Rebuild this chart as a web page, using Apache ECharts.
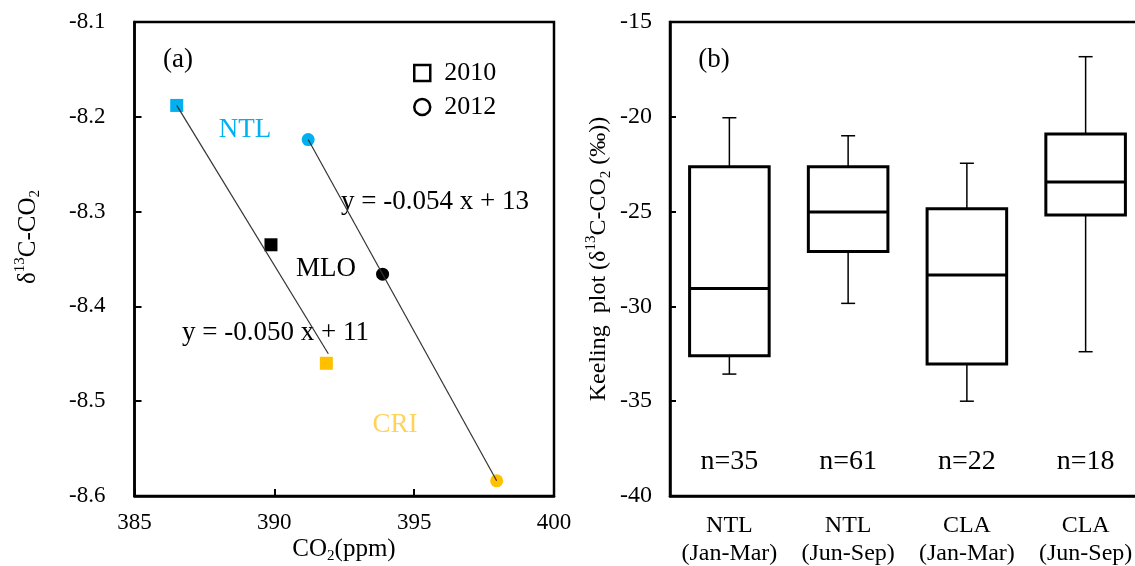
<!DOCTYPE html>
<html>
<head>
<meta charset="utf-8">
<script src="https://cdn.jsdelivr.net/npm/echarts@6/dist/echarts.min.js"></script>
<style>html,body{margin:0;background:#fff}#c{width:1135px;height:566px}</style>
</head>
<body>
<div id="c"></div>
<script>
/* (a) d13C vs CO2 at three sites, 2010 vs 2012; (b) Keeling-plot intercepts as box plots */
var SITES = ['NTL', 'MLO', 'CRI'];
var SITE_COLORS = ['#00b0f0', '#000000', '#ffc000'];
var CO2_2010 = [386.51, 389.88, 391.86];
var D13C_2010 = [-8.188, -8.335, -8.460];
var CO2_2012 = [391.21, 393.87, 397.95];
var D13C_2012 = [-8.224, -8.366, -8.584];
// ends of the two fitted lines
var FIT_2010_X = [386.51, 391.93];
var FIT_2010_Y = [-8.188, -8.450];
var FIT_2012_X = [391.21, 397.95];
var FIT_2012_Y = [-8.224, -8.584];

var GROUPS = ['NTL\n(Jan-Mar)', 'NTL\n(Jun-Sep)', 'CLA\n(Jan-Mar)', 'CLA\n(Jun-Sep)'];
var WHISK_HI = [-20.05, -21.0, -22.45, -16.83];
var Q3 = [-22.63, -22.63, -24.85, -20.91];
var MEDIAN = [-29.05, -25.02, -28.34, -23.44];
var Q1 = [-32.6, -27.1, -33.04, -25.18];
var WHISK_LO = [-33.57, -29.84, -35.0, -32.39];
var N_OBS = [35, 61, 22, 18];
var N_LABEL_Y = -38.2;

var SERIF = '"Liberation Serif", "Times New Roman", serif';

function pairs(xs, ys){ return xs.map(function(x, i){ return [x, ys[i]]; }); }
function pts(xs, ys){
  return xs.map(function(x, i){ return { value:[x, ys[i]], name:SITES[i], itemStyle:{ color:SITE_COLORS[i], opacity:1 } }; });
}

var boxRows = GROUPS.map(function(g, i){ return [i, WHISK_LO[i], Q1[i], MEDIAN[i], Q3[i], WHISK_HI[i], N_OBS[i]]; });

function renderBox(params, api){
  var i = api.value(0);
  var band = api.size([1, 0])[0];
  var bw = band * 0.67, cap = 7;
  var lo = api.coord([i, api.value(1)]), q1 = api.coord([i, api.value(2)]);
  var md = api.coord([i, api.value(3)]), q3 = api.coord([i, api.value(4)]);
  var hi = api.coord([i, api.value(5)]);
  var nPos = api.coord([i, N_LABEL_Y]);
  var cx = lo[0];
  var thin = { stroke:'#000', lineWidth:1.5 };
  var thick = { stroke:'#000', lineWidth:3 };
  return { type:'group', children:[
    { type:'line', shape:{ x1:cx, y1:hi[1], x2:cx, y2:q3[1] }, style:thin },
    { type:'line', shape:{ x1:cx - cap, y1:hi[1], x2:cx + cap, y2:hi[1] }, style:thin },
    { type:'line', shape:{ x1:cx, y1:lo[1], x2:cx, y2:q1[1] }, style:thin },
    { type:'line', shape:{ x1:cx - cap, y1:lo[1], x2:cx + cap, y2:lo[1] }, style:thin },
    { type:'rect', shape:{ x:cx - bw / 2, y:q3[1], width:bw, height:q1[1] - q3[1] },
      style:{ fill:'#fff', stroke:'#000', lineWidth:3 } },
    { type:'line', shape:{ x1:cx - bw / 2, y1:md[1], x2:cx + bw / 2, y2:md[1] }, style:thick },
    { type:'text', style:{ text:'n=' + api.value(6), x:cx, y:nPos[1], align:'center', verticalAlign:'middle',
      fontFamily:SERIF, fontSize:28, fill:'#000' } }
  ]};
}

var axisLineStyle = { show:true, lineStyle:{ color:'#000', width:2.5 } };
var tickStyle = { show:true, inside:true, length:7, lineStyle:{ color:'#000', width:2 } };
var labelBase = { fontFamily:SERIF, color:'#000' };

var rich = {
  t:{ fontFamily:SERIF, fontSize:25, color:'#000', lineHeight:30 },
  sup:{ fontFamily:SERIF, fontSize:15, color:'#000', lineHeight:16, verticalAlign:'top' },
  sub:{ fontFamily:SERIF, fontSize:15, color:'#000', lineHeight:16, verticalAlign:'bottom' }
};
function txt(x, y, text, size, color, extra){
  var o = { type:'text', x:x, y:y, silent:true,
    style:{ text:text, fontFamily:SERIF, fontSize:size, fill:color || '#000', align:'center', verticalAlign:'middle' } };
  if(extra){ for(var k in extra){ o.style[k] = extra[k]; } }
  return o;
}

var option = {
  backgroundColor:'#fff',
  animation:false,
  grid:[
    { left:134.5, right:581, top:22, bottom:70, show:true, borderColor:'#000', borderWidth:2.5, outerBoundsMode:'none' },
    // right edge of panel (b) runs past the page, as in the source figure
    { left:670, width:475, top:22, bottom:70, show:true, borderColor:'#000', borderWidth:2.5, outerBoundsMode:'none' }
  ],
  xAxis:[
    { type:'value', gridIndex:0, min:385, max:400, interval:5,
      axisLine:axisLineStyle, axisTick:tickStyle, splitLine:{ show:false },
      axisLabel:Object.assign({ fontSize:23, margin:15 }, labelBase) },
    { type:'category', gridIndex:1, data:GROUPS, boundaryGap:true,
      axisLine:axisLineStyle, axisTick:{ show:false }, splitLine:{ show:false },
      axisLabel:Object.assign({ fontSize:24, lineHeight:28, margin:16, interval:0 }, labelBase) }
  ],
  yAxis:[
    { type:'value', gridIndex:0, min:-8.6, max:-8.1, interval:0.1,
      axisLine:axisLineStyle, axisTick:tickStyle, splitLine:{ show:false },
      axisLabel:Object.assign({ fontSize:23, margin:29, formatter:function(v){ return v.toFixed(1); } }, labelBase) },
    { type:'value', gridIndex:1, min:-40, max:-15, interval:5,
      axisLine:axisLineStyle, axisTick:Object.assign({}, tickStyle, { length:6 }), splitLine:{ show:false },
      axisLabel:Object.assign({ fontSize:24, margin:18 }, labelBase) }
  ],
  legend:{
    left:408, top:53, orient:'vertical', itemWidth:16, itemHeight:16, itemGap:4, selectedMode:false,
    textStyle:{ fontFamily:SERIF, fontSize:26, lineHeight:30, color:'#000', padding:[0, 0, 0, 9] },
    data:[
      { name:'2010', icon:'rect', itemStyle:{ color:'#fff', borderColor:'#000', borderWidth:2.5, opacity:1 } },
      { name:'2012', icon:'circle', itemStyle:{ color:'#fff', borderColor:'#000', borderWidth:2.5, opacity:1 } }
    ]
  },
  series:[
    { name:'fit2010', type:'line', xAxisIndex:0, yAxisIndex:0, data:pairs(FIT_2010_X, FIT_2010_Y),
      symbol:'none', silent:true, lineStyle:{ color:'#333', width:1.2 }, z:3 },
    { name:'fit2012', type:'line', xAxisIndex:0, yAxisIndex:0, data:pairs(FIT_2012_X, FIT_2012_Y),
      symbol:'none', silent:true, lineStyle:{ color:'#333', width:1.2 }, z:3 },
    { name:'2010', type:'scatter', xAxisIndex:0, yAxisIndex:0, symbol:'rect', symbolSize:13,
      itemStyle:{ opacity:1 }, data:pts(CO2_2010, D13C_2010), z:2 },
    { name:'2012', type:'scatter', xAxisIndex:0, yAxisIndex:0, symbol:'circle', symbolSize:13,
      itemStyle:{ opacity:1 }, data:pts(CO2_2012, D13C_2012), z:2 },
    { name:'box', type:'custom', xAxisIndex:1, yAxisIndex:1, renderItem:renderBox,
      encode:{ x:0, y:[1, 2, 3, 4, 5] }, data:boxRows }
  ],
  graphic:[
    txt(178, 60, '(a)', 27),
    txt(714, 60, '(b)', 27),
    txt(245, 130, 'NTL', 27, '#00b0f0'),
    txt(326, 269, 'MLO', 27),
    txt(395, 425, 'CRI', 27, '#ffd35a'),
    txt(341, 202, 'y = -0.054 x + 13', 27, '#000', { align:'left' }),
    txt(182, 333, 'y = -0.050 x + 11', 27, '#000', { align:'left' }),
    txt(344, 549, '{t|CO}{sub|2}{t|(ppm)}', 25, '#000', { rich:rich }),
    { type:'text', x:28, y:237, rotation:Math.PI / 2, silent:true,
      style:{ text:'{t|δ}{sup|13}{t|C-CO}{sub|2}', rich:rich, align:'center', verticalAlign:'middle' } },
    { type:'text', x:599, y:259, rotation:Math.PI / 2, silent:true,
      style:{ text:'{t|Keeling  plot (δ}{sup|13}{t|C-CO}{sub|2}{t| (‰))}', rich:{
        t:{ fontFamily:SERIF, fontSize:24, color:'#000', lineHeight:30 },
        sup:{ fontFamily:SERIF, fontSize:15, color:'#000', lineHeight:16, verticalAlign:'top' },
        sub:{ fontFamily:SERIF, fontSize:15, color:'#000', lineHeight:16, verticalAlign:'bottom' }
      }, align:'center', verticalAlign:'middle' } }
  ]
};

var chart = echarts.init(document.getElementById('c'), null, { renderer:'canvas' });
chart.setOption(option);
window.addEventListener('resize', function(){ chart.resize(); });
</script>
</body>
</html>
